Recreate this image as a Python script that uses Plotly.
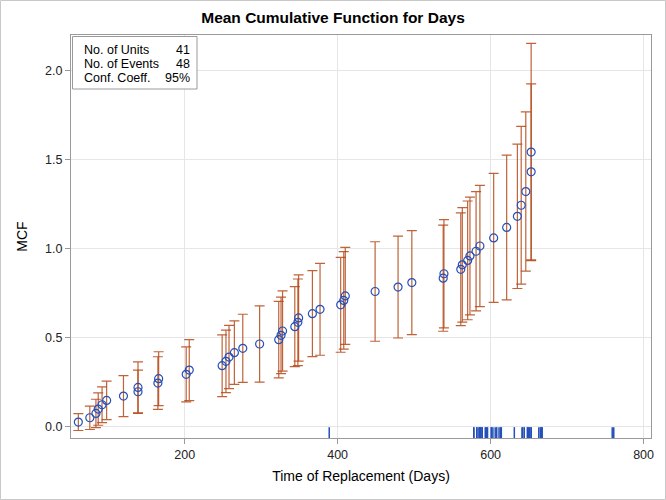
import plotly.graph_objects as go

# ---------------- data ----------------
event_days = [61, 76, 84, 87, 92, 98, 120, 139, 139, 165, 166, 202, 206, 249, 254, 258,
              265, 276, 298, 323, 326, 328, 344, 348, 349, 367, 377, 404, 408, 410, 449,
              479, 497, 538, 539, 561, 563, 570, 573, 581, 586, 604, 621, 635, 640, 646,
              653, 653]
mcf = [0.0244, 0.0488, 0.0732, 0.0976, 0.1220, 0.1463, 0.1707, 0.1951, 0.2195, 0.2439,
       0.2683, 0.2927, 0.3171, 0.3415, 0.3659, 0.3902, 0.4146, 0.4390, 0.4634, 0.4878,
       0.5122, 0.5366, 0.5610, 0.5854, 0.6098, 0.6341, 0.6585, 0.6835, 0.7085, 0.7335,
       0.7585, 0.7835, 0.8085, 0.8335, 0.8585, 0.8835, 0.9085, 0.9335, 0.9585, 0.9848,
       1.0143, 1.0597, 1.1186, 1.1811, 1.2436, 1.3205, 1.4316, 1.5427]
lower_cl = [-0.0228, -0.0172, -0.0065, 0.0067, 0.0218, 0.0382, 0.0556, 0.0738, 0.0759,
            0.0961, 0.1168, 0.1379, 0.1455, 0.1677, 0.1901, 0.2129, 0.2361, 0.2472,
            0.2486, 0.2727, 0.2971, 0.3114, 0.3363, 0.3418, 0.3672, 0.3927, 0.4001,
            0.4171, 0.4345, 0.4608, 0.4788, 0.4972, 0.5160, 0.5351, 0.5545, 0.5665,
            0.5866, 0.5997, 0.6274, 0.6493, 0.6735, 0.6970, 0.7118, 0.7755, 0.8000,
            0.8726, 0.9369, 0.9318]
upper_cl = [0.0716, 0.1147, 0.1529, 0.1884, 0.2221, 0.2545, 0.2859, 0.3164, 0.3631,
            0.3917, 0.4198, 0.4475, 0.4886, 0.5153, 0.5416, 0.5676, 0.5932, 0.6308,
            0.6782, 0.7029, 0.7273, 0.7618, 0.7857, 0.8289, 0.8524, 0.8756, 0.9170,
            0.9500, 0.9826, 1.0063, 1.0382, 1.0698, 1.1011, 1.1320, 1.1626, 1.2006,
            1.2305, 1.2674, 1.2897, 1.3204, 1.3550, 1.4224, 1.5253, 1.5866, 1.6872,
            1.7683, 1.9263, 2.1535]
censor_days = [389, 578, 578, 582, 582, 585, 585, 586, 587, 587, 589, 589, 593, 594, 595,
               596, 601, 601, 603, 606, 608, 611, 613, 614, 631, 641, 642, 644, 648, 649,
               650, 651, 653, 653, 663, 665, 667, 667, 667, 759, 761]
x_ticks = [200, 400, 600, 800]
y_ticks = [0.0, 0.5, 1.0, 1.5, 2.0]
y_tick_labels = ["0.0", "0.5", "1.0", "1.5", "2.0"]
inset_labels = ["No. of Units", "No. of Events", "Conf. Coeff."]
inset_values = ["41", "48", "95%"]

# ---------------- styling ----------------
FONT = "Liberation Sans, Arial, sans-serif"
BLUE = "#2450B8"
BAR = "rgba(180,72,22,0.85)"
AXIS = "#9A9A9A"
GRID = "#E6E6E6"

W, H = 666, 500
ML, MR, MT, MB = 71, 15, 35, 62
PW, PH = W - ML - MR, H - MT - MB


def px_x(px):
    return (px - ML) / PW


def px_y(py):
    return (H - MB - py) / PH


err_plus = [u - m for u, m in zip(upper_cl, mcf)]
err_minus = [m - l for m, l in zip(mcf, lower_cl)]

fig = go.Figure()
fig.add_trace(go.Scatter(
    x=event_days, y=mcf, mode="markers",
    marker=dict(symbol="circle-open", size=8, color=BLUE, line=dict(width=1.2, color=BLUE)),
    error_y=dict(type="data", symmetric=False, array=err_plus, arrayminus=err_minus,
                 color=BAR, thickness=1.2, width=5),
    showlegend=False, hoverinfo="skip"))

rug_y = -0.0354
fig.add_trace(go.Scatter(
    x=censor_days, y=[rug_y] * len(censor_days), mode="markers",
    marker=dict(symbol="line-ns", size=8, color=BLUE, line=dict(width=1.5, color=BLUE)),
    showlegend=False, hoverinfo="skip"))

fig.update_layout(
    width=W, height=H, autosize=False,
    margin=dict(l=ML, r=MR, t=MT, b=MB),
    paper_bgcolor="white", plot_bgcolor="white",
    font=dict(family=FONT, color="#000"),
    title=dict(text="<b>Mean Cumulative Function for Days</b>", x=0.5, xref="container",
               xanchor="center", y=1 - 18 / H, yref="container", yanchor="middle",
               font=dict(size=15.5, family=FONT, color="#000")),
    xaxis=dict(range=[51.4, 809.7], tickvals=x_ticks, showgrid=True, gridcolor=GRID,
               gridwidth=1, zeroline=False, showline=True, linecolor=AXIS, linewidth=1,
               mirror=True, ticks="outside", ticklen=5, tickcolor=AXIS,
               tickfont=dict(size=12.5, color="#222"),
               title=dict(text="Time of Replacement (Days)", font=dict(size=14), standoff=10)),
    yaxis=dict(range=[-0.065, 2.2006], tickvals=y_ticks, ticktext=y_tick_labels,
               showgrid=True, gridcolor=GRID, gridwidth=1, zeroline=False, showline=True,
               linecolor=AXIS, linewidth=1, mirror=True, ticks="outside", ticklen=5,
               tickcolor=AXIS, tickfont=dict(size=12.5, color="#222"),
               title=dict(text="MCF", font=dict(size=14), standoff=14)),
)

shapes = [
    dict(type="rect", xref="paper", yref="paper", x0=px_x(72.5), x1=px_x(197),
         y0=px_y(89), y1=px_y(36.5), line=dict(color=AXIS, width=1),
         fillcolor="white", layer="above"),
    dict(type="rect", xref="paper", yref="paper", x0=px_x(0.5), x1=px_x(W - 0.5),
         y0=px_y(H - 0.5), y1=px_y(0.5), line=dict(color="#C8C8C8", width=1),
         fillcolor="rgba(0,0,0,0)", layer="above"),
]
fig.update_layout(shapes=shapes)

row_y = [50, 64, 78]
for lab, val, ry in zip(inset_labels, inset_values, row_y):
    fig.add_annotation(text=lab, xref="paper", yref="paper", x=px_x(81.5), y=px_y(ry),
                       xanchor="left", yanchor="middle", showarrow=False,
                       font=dict(size=12.5, color="#000"))
    fig.add_annotation(text=val, xref="paper", yref="paper", x=px_x(192), y=px_y(ry),
                       xanchor="right", yanchor="middle", showarrow=False,
                       font=dict(size=12.5, color="#000"))

fig.write_html("out.html", config={"displayModeBar": False},
               post_script="document.body.style.margin='0';")
